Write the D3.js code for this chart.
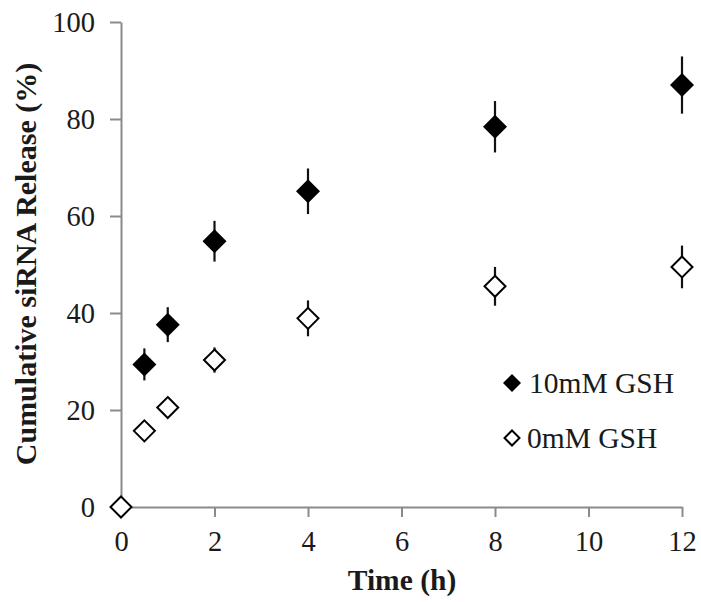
<!DOCTYPE html>
<html><head><meta charset="utf-8">
<script src="https://cdn.jsdelivr.net/npm/d3@7"></script>
<style>body{margin:0;background:#fff}svg{display:block}</style>
</head><body>
<svg id="c" width="701" height="602"></svg>
<script>
const xTicks = [0, 2, 4, 6, 8, 10, 12];
const yTicks = [0, 20, 40, 60, 80, 100];
const time10 = [0.5, 1, 2, 4, 8, 12];
const gsh10 = [29.4, 37.6, 54.8, 65.1, 78.4, 87.0];
const err10 = [3.3, 3.6, 4.2, 4.7, 5.3, 5.9];
const time0 = [0, 0.5, 1, 2, 4, 8, 12];
const gsh0 = [0, 15.7, 20.5, 30.3, 38.9, 45.5, 49.5];
const err0 = [0, 0.8, 1.0, 2.6, 3.7, 4.0, 4.4];
const legendLabels = ["10mM GSH", "0mM GSH"];

const svg = d3.select("#c");
const font = "'Liberation Serif','Times New Roman',serif";
const x = d3.scaleLinear().domain([0, 12]).range([121, 682]);
const y = d3.scaleLinear().domain([0, 100]).range([507, 22]);
const axisCol = "#8a8a8a";

const gx = svg.append("g").attr("transform", "translate(0,507)")
  .call(d3.axisBottom(x).tickValues(xTicks).tickSize(10).tickPadding(14).tickSizeOuter(0));
const gy = svg.append("g").attr("transform", "translate(121,0)")
  .call(d3.axisLeft(y).tickValues(yTicks).tickSize(11).tickPadding(15).tickSizeOuter(0));
[gx, gy].forEach(g => {
  g.select(".domain").attr("stroke", axisCol).attr("stroke-width", 2);
  g.selectAll(".tick line").attr("stroke", axisCol).attr("stroke-width", 2);
  g.selectAll(".tick text").attr("fill", "#1a1a1a").style("font-family", font).style("font-size", "28.5px");
});
gx.selectAll(".tick text").attr("dy", "0.71em");

svg.append("text").attr("x", 402).attr("y", 590).attr("text-anchor", "middle")
  .style("font-family", font).style("font-size", "29.5px").style("font-weight", "bold")
  .attr("fill", "#1a1a1a").text("Time (h)");
svg.append("text").attr("transform", "translate(36,264) rotate(-90)").attr("text-anchor", "middle")
  .style("font-family", font).style("font-size", "30px").style("font-weight", "bold")
  .attr("fill", "#1a1a1a").text("Cumulative siRNA Release (%)");

const diamond = s => `M0,${-s}L${s},0L0,${s}L${-s},0Z`;

function series(times, vals, errs, filled) {
  const g = svg.append("g");
  const data = times.map((t, i) => ({t, v: vals[i], e: errs[i]}));
  g.selectAll("line").data(data).join("line")
    .attr("x1", d => x(d.t)).attr("x2", d => x(d.t))
    .attr("y1", d => y(d.v + d.e)).attr("y2", d => y(d.v - d.e))
    .attr("stroke", "#111").attr("stroke-width", 2.2);
  g.selectAll("path").data(data).join("path")
    .attr("transform", d => `translate(${x(d.t)},${y(d.v)})`)
    .attr("d", filled ? diamond(12) : diamond(10.5))
    .attr("fill", filled ? "#000" : "#fff")
    .attr("stroke", "#000").attr("stroke-width", filled ? 0 : 2);
}
series(time0, gsh0, err0, false);
series(time10, gsh10, err10, true);

const leg = svg.append("g");
legendLabels.forEach((lab, i) => {
  const cy = i === 0 ? 383 : 438;
  leg.append("path").attr("transform", `translate(512,${cy})`)
    .attr("d", i === 0 ? diamond(9) : diamond(7.5))
    .attr("fill", i === 0 ? "#000" : "#fff").attr("stroke", "#000").attr("stroke-width", i === 0 ? 0 : 2);
  leg.append("text").attr("x", i === 0 ? 529 : 527).attr("y", cy + 10)
    .style("font-family", font).style("font-size", "29.5px").attr("fill", "#1a1a1a").text(lab);
});
</script>
</body></html>
